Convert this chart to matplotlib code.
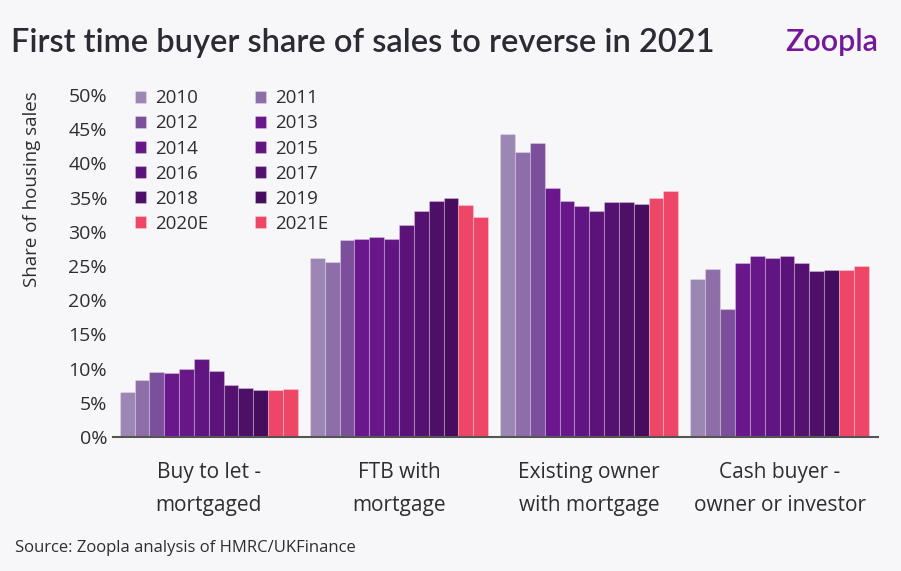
import matplotlib.pyplot as plt
import numpy as np

plt.rcParams['font.family'] = ['Open Sans', 'DejaVu Sans']

categories = ['Buy to let -\nmortgaged', 'FTB with\nmortgage',
              'Existing owner\nwith mortgage', 'Cash buyer -\nowner or investor']
years = ['2010', '2011', '2012', '2013', '2014', '2015',
         '2016', '2017', '2018', '2019', '2020E', '2021E']

# share of housing sales (%) per year, one list per category
btl = [6.6, 8.3, 9.5, 9.3, 9.9, 11.4, 9.6, 7.6, 7.1, 6.8, 6.8, 7.0]
ftb = [26.1, 25.6, 28.8, 29.0, 29.3, 28.9, 31.0, 33.0, 34.5, 34.9, 33.9, 32.2]
existing = [44.3, 41.6, 43.0, 36.4, 34.5, 33.8, 33.0, 34.3, 34.4, 34.1, 35.0, 35.9]
cash = [23.1, 24.5, 18.7, 25.4, 26.5, 26.1, 26.5, 25.4, 24.2, 24.4, 24.4, 25.0]

colors = ['#9C87B4', '#8D6EA9', '#7C4F9C', '#6A168D', '#671788', '#611582',
          '#5B1379', '#551170', '#4E0F67', '#460C5D', '#EE4666', '#EE4666']

values = np.array([btl, ftb, existing, cash])

bg = '#F7F7F9'
txt = '#2E2E2E'
fig = plt.figure(figsize=(9.01, 5.71), dpi=100, facecolor=bg)
ax = fig.add_axes([0.125, 0.2347, 0.85, 0.599])
ax.set_facecolor(bg)

x = np.arange(len(categories))
w = 0.078
handles = []
for i, yr in enumerate(years):
    b = ax.bar(x + (i - 5.5) * w, values[:, i], width=w, color=colors[i],
               edgecolor=(1, 1, 1, 0.25), linewidth=0.8, label=yr)
    handles.append(b)

ax.set_xlim(-0.505, 3.52)
ax.set_ylim(0, 50)
ax.set_yticks(np.arange(0, 51, 5))
ax.set_yticklabels([f'{v}%' for v in range(0, 51, 5)], fontsize=14, color=txt)
ax.set_xticks(x)
ax.set_xticklabels(categories, fontsize=15, color=txt, linespacing=1.75)
ax.tick_params(axis='both', length=0)
ax.tick_params(axis='x', pad=18)
ax.tick_params(axis='y', pad=4)
for s in ['top', 'right', 'left']:
    ax.spines[s].set_visible(False)
ax.spines['bottom'].set_color('#555555')
ax.spines['bottom'].set_linewidth(1.5)

ordered = handles[0::2] + handles[1::2]
leg = ax.legend(ordered, [h.get_label() for h in ordered], ncol=2, loc='upper left',
                bbox_to_anchor=(0.007, 1.066), frameon=False, fontsize=13.5,
                handlelength=0.6, handleheight=0.6, handletextpad=0.5,
                columnspacing=2.45, labelspacing=0.38, labelcolor=txt)

fig.text(0.036, 0.668, 'Share of housing sales', rotation=90, fontsize=13.5,
         color=txt, ha='center', va='center')

fig.text(0.012, 0.925, 'First time buyer share of sales to reverse in 2021',
         fontsize=23.5, fontweight='semibold', color='#2B2B33',
         family=['Lato', 'DejaVu Sans'], va='center')
fig.text(0.975, 0.927, 'Zoopla', fontsize=22, fontweight='semibold', color='#73189A',
         family=['Lato', 'DejaVu Sans'], ha='right', va='center')
fig.text(0.017, 0.04, 'Source: Zoopla analysis of HMRC/UKFinance', fontsize=12,
         color=txt, va='center')

fig.savefig('out.png', dpi=100, facecolor=bg)
